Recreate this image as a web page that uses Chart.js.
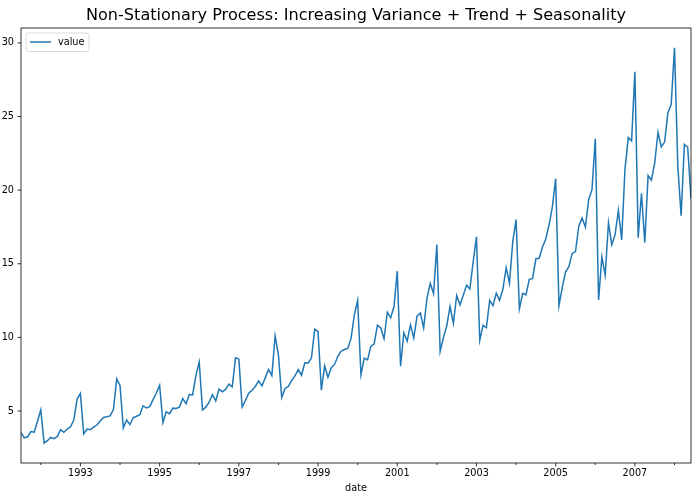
<!DOCTYPE html>
<html><head><meta charset="utf-8">
<script src="https://cdn.jsdelivr.net/npm/chart.js@4"></script>
<style>html,body{margin:0;padding:0;background:#fff}#wrap{width:699px;height:497px}</style>
</head><body><div id="wrap"><canvas id="c"></canvas></div>
<script>
const startYear = 1991, startMonth = 7;
const values = [
3.526591,3.180891,3.252221,3.611003,3.565869,4.306371,
5.088335,2.814520,2.985811,3.204780,3.127578,3.270523,3.737851,3.558776,3.777202,3.924490,4.386531,5.810549,
6.192068,3.450857,3.772307,3.734303,3.905399,4.049687,4.315566,4.562185,4.608662,4.667851,5.093841,7.179962,
6.731473,3.841278,4.394076,4.075341,4.540645,4.645615,4.752607,5.350605,5.204455,5.301651,5.773742,6.204593,
6.749484,4.216067,4.949349,4.823045,5.194754,5.170787,5.256742,5.855277,5.490729,6.115293,6.088473,7.416598,
8.329452,5.069796,5.262557,5.597126,6.110296,5.689161,6.486849,6.300569,6.467476,6.828629,6.649078,8.606937,
8.524471,5.277918,5.714303,6.214529,6.411929,6.667716,7.050831,6.704919,7.250988,7.819733,7.398101,10.096233,
8.798513,5.918261,6.534493,6.675736,7.064201,7.383381,7.813496,7.431892,8.275117,8.260441,8.596156,10.558939,
10.391416,6.421535,8.062619,7.297739,7.936916,8.165323,8.717420,9.070964,9.177113,9.251887,9.933136,11.532974,
12.511462,7.457199,8.591191,8.474000,9.386803,9.560399,10.834295,10.643751,9.908162,11.710041,11.340151,12.079132,
14.497581,8.049275,10.312891,9.753358,10.850382,9.961719,11.443601,11.659239,10.647060,12.652134,13.674466,12.965735,
16.300269,9.053485,10.002449,10.788750,12.106705,10.954101,12.844566,12.196500,12.854748,13.542004,13.287640,15.134918,
16.828350,9.800215,10.816994,10.654223,12.512323,12.161210,12.998046,12.517276,13.268658,14.733622,13.669382,16.503966,
18.003768,11.938030,12.997900,12.882645,13.943447,13.989472,15.339097,15.370764,16.142005,16.685754,17.636728,18.869325,
20.778723,12.154552,13.402392,14.459239,14.795102,15.705248,15.829550,17.554701,18.100864,17.496668,19.347265,20.031291,
23.486694,12.536987,15.467018,14.233539,17.783058,16.291602,16.980282,18.612189,16.623343,21.430241,23.575517,23.334206,
28.038383,16.763869,19.792754,16.427305,21.000742,20.681002,21.834890,23.930204,22.930357,23.263340,25.250030,25.806090,
29.665356,21.654285,18.264945,23.107677,22.912510,19.431740
];
const majorYears = [1993,1995,1997,1999,2001,2003,2005,2007];
const minorYears = [1992,1994,1996,1998,2000,2002,2004,2006,2008];
const yTicks = [5,10,15,20,25,30];
const seriesLabel = 'value';
const titleText = 'Non-Stationary Process: Increasing Variance + Trend + Seasonality';
const xLabel = 'date';

const points = values.map((v,i)=>({x: startYear + (startMonth-1+i)/12, y: v}));
const xMin = points[0].x, xMax = points[points.length-1].x;
const yMin = 1.47, yMax = 31.01;
const FONT = "'DejaVu Sans', sans-serif";

const framePlugin = {
  id:'frame',
  afterDatasetsDraw(chart){
    const ctx = chart.ctx, a = chart.chartArea;
    const xs = chart.scales.x, ys = chart.scales.y;
    ctx.save();
    ctx.strokeStyle = '#000'; ctx.lineWidth = 0.8;
    ctx.strokeRect(a.left, a.top, a.right-a.left, a.bottom-a.top);
    ctx.beginPath();
    majorYears.forEach(y=>{const px = xs.getPixelForValue(y); ctx.moveTo(px,a.bottom); ctx.lineTo(px,a.bottom+3.4);});
    minorYears.forEach(y=>{const px = xs.getPixelForValue(y); if(px<=a.right+0.5){ctx.moveTo(px,a.bottom); ctx.lineTo(px,a.bottom+2);}});
    yTicks.forEach(v=>{const py = ys.getPixelForValue(v); ctx.moveTo(a.left,py); ctx.lineTo(a.left-3.4,py);});
    ctx.stroke();
    // legend
    const bx = 26, by = 33, bw = 63, bh = 18.5, r = 2.5;
    ctx.beginPath();
    ctx.moveTo(bx+r,by); ctx.lineTo(bx+bw-r,by); ctx.quadraticCurveTo(bx+bw,by,bx+bw,by+r);
    ctx.lineTo(bx+bw,by+bh-r); ctx.quadraticCurveTo(bx+bw,by+bh,bx+bw-r,by+bh);
    ctx.lineTo(bx+r,by+bh); ctx.quadraticCurveTo(bx,by+bh,bx,by+bh-r);
    ctx.lineTo(bx,by+r); ctx.quadraticCurveTo(bx,by,bx+r,by); ctx.closePath();
    ctx.fillStyle = 'rgba(255,255,255,0.8)'; ctx.fill();
    ctx.strokeStyle = '#d0d0d0'; ctx.lineWidth = 0.8; ctx.stroke();
    ctx.beginPath(); ctx.moveTo(30,42); ctx.lineTo(51,42);
    ctx.strokeStyle = chart.data.datasets[0].borderColor; ctx.lineWidth = 1.5; ctx.stroke();
    ctx.fillStyle = '#000'; ctx.font = "9.7px " + FONT; ctx.textBaseline = 'middle'; ctx.textAlign='left';
    ctx.fillText(chart.data.datasets[0].label, 58, 42);
    ctx.restore();
  }
};

new Chart(document.getElementById('c'), {
  type:'line',
  data:{datasets:[{label:seriesLabel, data:points, borderColor:'#1f77b4', borderWidth:1.5, pointRadius:0, tension:0, fill:false}]},
  options:{
    responsive:true, maintainAspectRatio:false, animation:false,
    layout:{padding:{left:0,right:8,top:0,bottom:0}},
    plugins:{
      legend:{display:false}, tooltip:{enabled:false},
      title:{display:true, fullSize:false, text:titleText, color:'#000', font:{family:FONT, size:16.1, weight:'normal'}, padding:{top:6,bottom:2.7}}
    },
    scales:{
      x:{type:'linear', min:xMin, max:xMax,
        grid:{display:false, drawTicks:false}, border:{display:false},
        afterBuildTicks(s){ s.ticks = majorYears.map(v=>({value:v})); },
        afterFit(s){ s.height = 34; },
        ticks:{padding:5, color:'#000', font:{family:FONT,size:9.7}, maxRotation:0, autoSkip:false, callback:v=>String(v)},
        title:{display:true, text:xLabel, color:'#000', font:{family:FONT,size:9.7}, padding:{top:0,bottom:3}}
      },
      y:{type:'linear', min:yMin, max:yMax,
        grid:{display:false, drawTicks:false}, border:{display:false},
        afterBuildTicks(s){ s.ticks = yTicks.map(v=>({value:v})); },
        afterFit(s){ s.width = 21; },
        ticks:{padding:7, color:'#000', font:{family:FONT,size:9.7}, callback:v=>String(v)}
      }
    }
  },
  plugins:[framePlugin]
});
</script></body></html>
